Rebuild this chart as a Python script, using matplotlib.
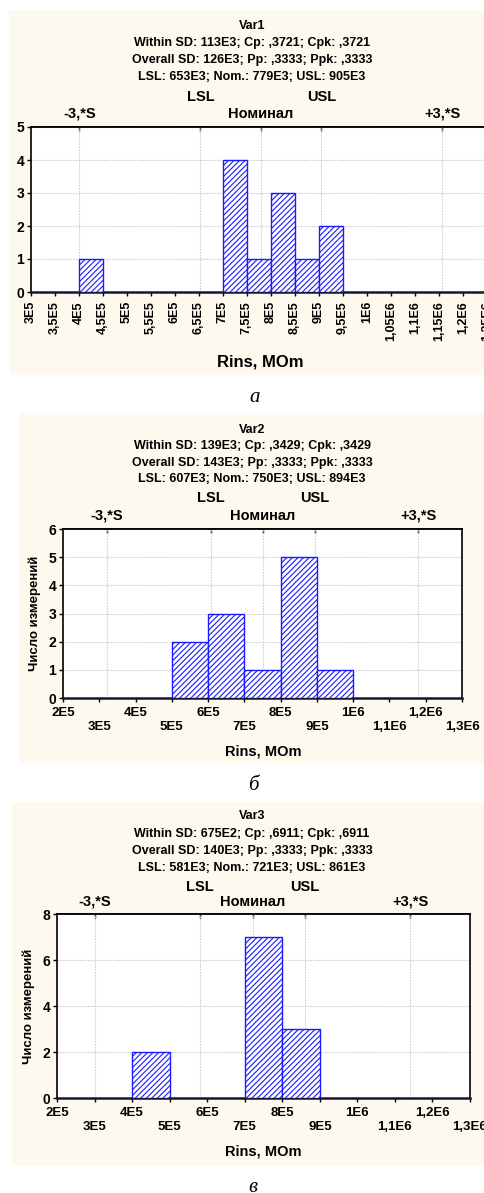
import matplotlib
matplotlib.use('Agg')
import matplotlib.pyplot as plt
import matplotlib.transforms as mtransforms
from matplotlib.patches import Rectangle

# DATA
v1_left = [4.0e5, 7.0e5, 7.5e5, 8.0e5, 8.5e5, 9.0e5]
v1_counts = [1, 4, 1, 3, 1, 2]
v1_width = 0.5e5
v1_marks = [401e3, 653e3, 779e3, 905e3, 1157e3]
v1_ticks = [3.0e5, 3.5e5, 4.0e5, 4.5e5, 5.0e5, 5.5e5, 6.0e5, 6.5e5, 7.0e5, 7.5e5,
            8.0e5, 8.5e5, 9.0e5, 9.5e5, 1.0e6, 1.05e6, 1.1e6, 1.15e6, 1.2e6, 1.25e6]
v1_ticklabels = ['3E5', '3,5E5', '4E5', '4,5E5', '5E5', '5,5E5', '6E5', '6,5E5', '7E5', '7,5E5',
                 '8E5', '8,5E5', '9E5', '9,5E5', '1E6', '1,05E6', '1,1E6', '1,15E6', '1,2E6', '1,25E6']
v1_title = ['Var1',
            'Within SD: 113E3; Cp: ,3721; Cpk: ,3721',
            'Overall SD: 126E3; Pp: ,3333; Ppk: ,3333',
            'LSL: 653E3; Nom.: 779E3; USL: 905E3']

v2_left = [5e5, 6e5, 7e5, 8e5, 9e5]
v2_counts = [2, 3, 1, 5, 1]
v2_width = 1e5
v2_marks = [321e3, 607e3, 750e3, 894e3, 1179e3]
v2_title = ['Var2',
            'Within SD: 139E3; Cp: ,3429; Cpk: ,3429',
            'Overall SD: 143E3; Pp: ,3333; Ppk: ,3333',
            'LSL: 607E3; Nom.: 750E3; USL: 894E3']

v3_left = [4e5, 7e5, 8e5]
v3_counts = [2, 7, 3]
v3_width = 1e5
v3_marks = [301e3, 581e3, 721e3, 861e3, 1141e3]
v3_title = ['Var3',
            'Within SD: 675E2; Cp: ,6911; Cpk: ,6911',
            'Overall SD: 140E3; Pp: ,3333; Ppk: ,3333',
            'LSL: 581E3; Nom.: 721E3; USL: 861E3']

wide_ticks = [2e5, 3e5, 4e5, 5e5, 6e5, 7e5, 8e5, 9e5, 1e6, 1.1e6, 1.2e6, 1.3e6]
wide_ticklabels = ['2E5', '3E5', '4E5', '5E5', '6E5', '7E5', '8E5', '9E5', '1E6', '1,1E6', '1,2E6', '1,3E6']

mark_labels = ['-3,*S', 'LSL', 'Номинал', 'USL', '+3,*S']
mark_upper = [False, True, False, True, False]

# STYLE
BG = '#fdf9ee'
BLUE = '#1a1aff'
GRID = '#cfcfcf'
plt.rcParams.update({
    'font.family': ['Liberation Sans', 'DejaVu Sans'],
    'font.weight': 'bold',
    'hatch.linewidth': 0.8,
    'hatch.color': BLUE,
})

W, H = 484, 1193
fig = plt.figure(figsize=(W / 100, H / 100), dpi=100)
fig.patch.set_facecolor('white')


def fx(x):
    return x / W


def fy(y):
    return 1 - y / H


def panel(bg, ax_box, left, counts, width, marks, title, title_y, row_y,
          xlim, ylim, yticks, ylabel, xlabel_xy, xlabel_size, caption, caption_xy):
    # cream background box behind everything
    x0, y0, x1, y1 = bg
    fig.patches.append(Rectangle((fx(x0), fy(y1)), fx(x1 - x0), (y1 - y0) / H,
                                 transform=fig.transFigure, facecolor=BG,
                                 edgecolor='none', zorder=-10))
    l, t, r, b = ax_box
    ax = fig.add_axes([fx(l), fy(b), fx(r - l), (b - t) / H])
    ax.set_zorder(2)
    ax.set_facecolor('white')
    ax.bar(left, counts, width=width, align='edge', facecolor='white',
           edgecolor=BLUE, hatch='//////', linewidth=1.0, zorder=3)
    ax.set_xlim(*xlim)
    ax.set_ylim(*ylim)
    ax.set_yticks(yticks)
    ax.yaxis.grid(True, color=GRID, linestyle=(0, (1.5, 1)), linewidth=0.8)
    for m in marks:
        ax.axvline(m, color=GRID, linestyle=(0, (1.5, 1)), linewidth=0.8, zorder=1)
    ax.set_axisbelow(True)
    for s in ax.spines.values():
        s.set_color('black')
        s.set_linewidth(1.2)
    ax.spines['bottom'].set_color('#151535')
    ax.spines['bottom'].set_linewidth(1.8)
    ax.tick_params(axis='both', direction='out', length=3, width=1, labelsize=10)
    ax.tick_params(axis='y', pad=2)
    top = ax.secondary_xaxis('top')
    top.set_ticks(marks)
    top.set_xticklabels([])
    top.tick_params(direction='in', length=3, width=1)
    top.spines['top'].set_linewidth(1.2)

    for i, line in enumerate(title):
        fig.text(fx(252), fy(title_y[i]), line, ha='center', va='center',
                 fontsize=9, fontweight='bold')
    trans = mtransforms.blended_transform_factory(ax.transData, fig.transFigure)
    for m, lab, up in zip(marks, mark_labels, mark_upper):
        ax.text(m, fy(row_y[0] if up else row_y[1]), lab, transform=trans,
                ha='center', va='center', fontsize=10.5, fontweight='bold', clip_on=False)
    if ylabel:
        ax.set_ylabel(ylabel, fontsize=9.5, fontweight='bold', labelpad=5)
    fig.text(fx(xlabel_xy[0]), fy(xlabel_xy[1]), 'Rins, MOm', ha='center', va='center',
             fontsize=xlabel_size, fontweight='bold')
    fig.text(fx(caption_xy[0]), fy(caption_xy[1]), caption, ha='center', va='center',
             fontsize=15, fontstyle='italic', fontweight='normal',
             family=['Liberation Serif', 'DejaVu Serif'])
    return ax


# PANEL a
ax1 = panel((9, 10, 484, 375), (31, 127, 487, 292), v1_left, v1_counts, v1_width,
            v1_marks, v1_title, [26, 43, 60, 77], [97, 114],
            (3.0e5, 1.25e6), (0, 5), [0, 1, 2, 3, 4, 5], None,
            (260, 362), 12, 'а', (255, 397))
ax1.set_xticks(v1_ticks)
ax1.set_xticklabels(v1_ticklabels, rotation=90, fontsize=9, fontweight='bold')

# PANEL б
ax2 = panel((19, 413, 484, 763), (63, 529, 462, 698), v2_left, v2_counts, v2_width,
            v2_marks, v2_title, [430, 446, 463, 479], [498, 516],
            (2e5, 1.3e6), (0, 6), [0, 1, 2, 3, 4, 5, 6], 'Число измерений',
            (263, 752), 10.5, 'б', (253, 785))

# PANEL в
ax3 = panel((12, 802, 484, 1166), (57, 914, 470, 1098), v3_left, v3_counts, v3_width,
            v3_marks, v3_title, [816, 834, 851, 868], [887, 902],
            (2e5, 1.3e6), (0, 8), [0, 2, 4, 6, 8], 'Число измерений',
            (263, 1152), 10.5, 'в', (253, 1188))

for ax in (ax2, ax3):
    ax.set_xticks(wide_ticks)
    ax.set_xticklabels([lab if i % 2 == 0 else '\n' + lab
                        for i, lab in enumerate(wide_ticklabels)],
                       fontsize=9.5, fontweight='bold', linespacing=1.25)

fig.savefig('out.png', dpi=100)
